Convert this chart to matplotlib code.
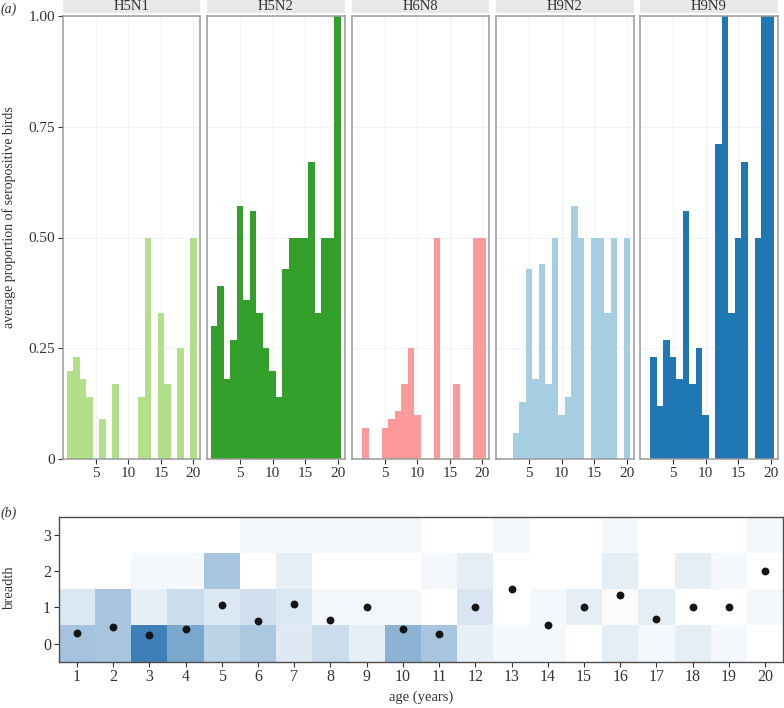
import matplotlib
matplotlib.use("Agg")
import matplotlib.pyplot as plt
import numpy as np
from matplotlib.colors import LinearSegmentedColormap
from matplotlib.patches import Rectangle

plt.rcParams['font.family'] = ['Liberation Serif', 'DejaVu Serif']

ages = np.arange(1, 21)
subtypes = ["H5N1", "H5N2", "H6N8", "H9N2", "H9N9"]
colours = ["#b2df8a", "#33a02c", "#fb9a99", "#a6cee3", "#1f78b4"]

# (a) average proportion of seropositive birds by age
h5n1 = [0.20, 0.23, 0.18, 0.14, 0, 0.09, 0, 0.17, 0, 0, 0, 0.14, 0.50, 0, 0.33, 0.17, 0, 0.25, 0, 0.50]
h5n2 = [0.30, 0.39, 0.18, 0.27, 0.57, 0.36, 0.56, 0.33, 0.25, 0.20, 0.14, 0.43, 0.50, 0.50, 0.50, 0.67, 0.33, 0.50, 0.50, 1.00]
h6n8 = [0, 0.07, 0, 0, 0.07, 0.09, 0.11, 0.17, 0.25, 0.10, 0, 0, 0.50, 0, 0, 0.17, 0, 0, 0.50, 0.50]
h9n2 = [0, 0, 0.06, 0.13, 0.43, 0.18, 0.44, 0.17, 0.50, 0.10, 0.14, 0.57, 0.50, 0, 0.50, 0.50, 0.33, 0.50, 0, 0.50]
h9n9 = [0, 0.23, 0.12, 0.27, 0.23, 0.18, 0.56, 0.17, 0.25, 0.10, 0, 0.71, 1.00, 0.33, 0.50, 0.67, 0, 0.50, 1.00, 1.00]
series = [h5n1, h5n2, h6n8, h9n2, h9n9]

y_ticks = [0, 0.25, 0.5, 0.75, 1.0]
y_ticklabels = ["0", "0.25", "0.50", "0.75", "1.00"]
x_ticks = [5, 10, 15, 20]

# (b) breadth heatmap (fill share per cell) and mean breadth per age
breadth = [0, 1, 2, 3]
fill_b0 = [0.47, 0.45, 1.0, 0.69, 0.35, 0.43, 0.17, 0.27, 0.13, 0.60, 0.45, 0.12, 0.06, 0.06, 0, 0.14, 0.06, 0.14, 0.06, 0]
fill_b1 = [0.19, 0.45, 0.12, 0.27, 0.19, 0.25, 0.19, 0.06, 0.06, 0.06, 0, 0.20, 0, 0.06, 0.14, 0.03, 0.14, 0, 0, 0.06]
fill_b2 = [0, 0, 0.06, 0.06, 0.45, 0, 0.14, 0, 0, 0, 0.06, 0.14, 0, 0, 0, 0.14, 0, 0.14, 0.06, 0]
fill_b3 = [0, 0, 0, 0, 0, 0.06, 0.06, 0.06, 0.06, 0.06, 0, 0, 0.06, 0, 0, 0.06, 0, 0, 0, 0.06]
mean_breadth = [0.28, 0.46, 0.23, 0.39, 1.06, 0.63, 1.10, 0.66, 1.0, 0.39, 0.27, 1.0, 1.5, 0.5, 1.0, 1.33, 0.67, 1.0, 1.0, 2.0]

W, H = 784, 708
fig = plt.figure(figsize=(W / 100, H / 100), dpi=100)

txt_col = "#333333"
panel_lefts = [62.7, 206.9, 351.7, 496.0, 640.0]
pw = 137.6
ptop, pbot = 15.7, 459.3

for i, (name, vals, col) in enumerate(zip(subtypes, series, colours)):
    ax = fig.add_axes([panel_lefts[i] / W, 1 - pbot / H, pw / W, (pbot - ptop) / H])
    ax.bar(ages, vals, width=1.0, color=col, linewidth=0, zorder=2)
    ax.set_xlim(-0.1, 21.05)
    ax.set_ylim(0, 1)
    ax.set_xticks(x_ticks)
    ax.set_xticklabels([str(t) for t in x_ticks])
    ax.set_yticks(y_ticks)
    ax.grid(color="#f2f2f2", lw=0.8, zorder=0)
    ax.set_axisbelow(True)
    for s in ax.spines.values():
        s.set_color("#9a9a9a")
        s.set_linewidth(1.1)
        s.set_zorder(3)
    ax.tick_params(axis="x", length=3.5, width=0.8, color="#333333", labelsize=11,
                   labelcolor=txt_col, pad=2)
    if i == 0:
        ax.set_yticklabels(y_ticklabels)
        ax.tick_params(axis="y", length=3.5, width=0.8, color="#333333", labelsize=11,
                       labelcolor=txt_col, pad=2)
    else:
        ax.tick_params(axis="y", length=0, labelleft=False)
    # facet strip
    ax.add_patch(Rectangle((0, 1.005), 1, 0.0305, transform=ax.transAxes,
                           facecolor="#e9e9e9", edgecolor="none", clip_on=False))
    ax.text(0.5, 1.0205, name, transform=ax.transAxes, ha="center", va="center",
            fontsize=10.5, color=txt_col)

fig.text(1 / W, 1 - 9 / H, "(a)", fontsize=10, style="italic", color=txt_col, va="center")
fig.text(9 / W, 1 - 217 / H, "average proportion of seropositive birds", rotation=90,
         fontsize=10, color=txt_col, ha="center", va="center")

# bottom heatmap
bl, br, bt, bb = 58.7, 783.3, 516.7, 661.7
axb = fig.add_axes([bl / W, 1 - bb / H, (br - bl) / W, (bb - bt) / H])
cmap = LinearSegmentedColormap.from_list("wb", ["#ffffff", "#3f7fb8"])
grid = np.array([fill_b0, fill_b1, fill_b2, fill_b3])
x_edges = np.append(ages - 0.5, ages[-1] + 0.5)
y_edges = np.append(np.array(breadth) - 0.5, breadth[-1] + 0.5)
axb.pcolormesh(x_edges, y_edges, grid, cmap=cmap, vmin=0, vmax=1, shading="flat")
axb.scatter(ages, mean_breadth, s=32, color="#151515", zorder=3, linewidths=0)
axb.set_xlim(0.5, 20.5)
axb.set_ylim(-0.5, 3.5)
axb.set_xticks(ages)
axb.set_yticks(breadth)
for s in axb.spines.values():
    s.set_color("#4d4d4d")
    s.set_linewidth(1.0)
axb.tick_params(length=3.5, width=0.8, color="#333333", labelsize=11.5, labelcolor=txt_col, pad=2)
axb.set_xlabel("age (years)", fontsize=10.5, color=txt_col, labelpad=4)
fig.text(9 / W, 1 - 587 / H, "breadth", rotation=90, fontsize=10.5, color=txt_col,
         ha="center", va="center")
fig.text(1 / W, 1 - 513 / H, "(b)", fontsize=10, style="italic", color=txt_col, va="center")

fig.savefig("out.png", dpi=100)
